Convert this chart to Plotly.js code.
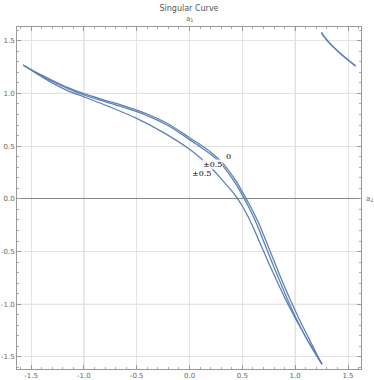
<!DOCTYPE html>
<html>
<head>
<meta charset="utf-8">
<script src="https://cdn.plot.ly/plotly-3.0.1.min.js"></script>
<style>html,body{margin:0;padding:0;background:#fff;}#chart{width:374px;height:380px;}</style>
</head>
<body>
<div id="chart"></div>
<script>
// Contour "0" (upper curve)
const c0X = [-1.575,-1.45,-1.3,-1.15,-1.0,-0.8,-0.6,-0.4,-0.2,0.0,0.1,0.2,0.3,0.4,0.45,0.5,0.55,0.6,0.65,0.7,0.75,0.8,0.85,0.9,0.95,1.0,1.05,1.1,1.15,1.2,1.254];
const c0Y = [1.27,1.2,1.125,1.055,0.997,0.935,0.875,0.805,0.71,0.58,0.515,0.443,0.355,0.228,0.153,0.066,-0.024,-0.117,-0.22,-0.34,-0.465,-0.59,-0.715,-0.835,-0.95,-1.06,-1.165,-1.265,-1.365,-1.465,-1.568];
// Contour "±0.5" (middle curve)
const c1X = [-1.575,-1.45,-1.3,-1.15,-1.0,-0.8,-0.6,-0.4,-0.2,0.0,0.1,0.2,0.3,0.4,0.45,0.5,0.55,0.6,0.65,0.7,0.75,0.8,0.85,0.9,0.95,1.0,1.05,1.1,1.15,1.2,1.254];
const c1Y = [1.27,1.195,1.115,1.045,0.985,0.922,0.86,0.79,0.693,0.562,0.495,0.422,0.332,0.2,0.123,0.035,-0.058,-0.158,-0.272,-0.4,-0.525,-0.65,-0.77,-0.89,-1.005,-1.115,-1.215,-1.31,-1.4,-1.485,-1.568];
// Contour "±0.5" (lower curve)
const c2X = [-1.575,-1.45,-1.3,-1.15,-1.0,-0.75,-0.5,-0.25,0.0,0.1,0.2,0.3,0.4,0.45,0.5,0.55,0.6,0.65,0.7,0.75,0.8,0.85,0.9,0.95,1.0,1.05,1.1,1.15,1.2,1.254];
const c2Y = [1.27,1.19,1.1,1.025,0.968,0.87,0.763,0.63,0.47,0.39,0.3,0.19,0.075,0.01,-0.07,-0.16,-0.265,-0.38,-0.495,-0.61,-0.72,-0.83,-0.935,-1.035,-1.13,-1.22,-1.31,-1.395,-1.48,-1.568];
// Wrapped piece, top right
const wX = [1.248,1.29,1.33,1.38,1.44,1.5,1.571];
const wY = [1.579,1.52,1.475,1.425,1.37,1.32,1.262];
const wY2 = [1.575,1.516,1.471,1.421,1.366,1.316,1.258];
// Contour labels
const labText = ["0","±0.5","±0.5"];
const labX = [0.37,0.215,0.115];
const labY = [0.40,0.33,0.245];
// Ticks
const tickVals = [-1.5,-1.0,-0.5,0.0,0.5,1.0,1.5];
const tickText = ["-1.5","-1.0","-0.5","0.0","0.5","1.0","1.5"];

const lineColor = '#5E81B5';
const mk = (x,y) => ({x:x, y:y, type:'scatter', mode:'lines', line:{color:lineColor, width:1.3, shape:'spline', smoothing:0.8}, hoverinfo:'skip', showlegend:false});
const data = [mk(c0X,c0Y), mk(c1X,c1Y), mk(c2X,c2Y), mk(wX,wY), mk(wX,wY2)];

const axisCommon = {
  tickvals: tickVals, ticktext: tickText,
  ticks:'inside', ticklen:4, tickcolor:'#999', tickwidth:1,
  minor:{dtick:0.1, tick0:0, ticks:'inside', ticklen:2, tickcolor:'#aaa', showgrid:false},
  showline:true, linecolor:'#999', linewidth:1, mirror:'allticks',
  showgrid:true, gridcolor:'#e3e3e3', gridwidth:1,
  tickfont:{family:'DejaVu Sans, sans-serif', size:7, color:'#666'},
  fixedrange:true
};

const gridShapes = [-1,1].map(v => ({type:'line', xref:'x', yref:'paper', x0:v, x1:v, y0:0, y1:1, line:{color:'#cfcfcf', width:1}, layer:'below'}))
 .concat([-1,1].map(v => ({type:'line', xref:'paper', yref:'y', x0:0, x1:1, y0:v, y1:v, line:{color:'#d6d6d6', width:1}, layer:'below'})));

const annotations = labText.map((t,i) => ({x:labX[i], y:labY[i], xref:'x', yref:'y', text:t, showarrow:false,
  font:{family:'DejaVu Serif, serif', size:8, color:'#000'}, bgcolor:'rgba(255,255,255,0.85)', borderpad:0}));
annotations.push({x:0.5, y:1, xref:'paper', yref:'paper', yanchor:'bottom', yshift:2, text:'a<sub>1</sub>', showarrow:false,
  font:{family:'DejaVu Sans, sans-serif', size:7, color:'#666'}});
annotations.push({x:1, y:0, xref:'paper', yref:'y', xanchor:'left', xshift:3, text:'a<sub>2</sub>', showarrow:false,
  font:{family:'DejaVu Sans, sans-serif', size:7, color:'#666'}});

const layout = {
  width:374, height:380,
  margin:{l:17, r:13, t:27, b:11, pad:0},
  paper_bgcolor:'#fff', plot_bgcolor:'#fff',
  title:{text:'Singular Curve', x:0.5, xref:'paper', y:0.985, yref:'container', yanchor:'top',
    font:{family:'DejaVu Sans, sans-serif', size:8, color:'#555'}},
  xaxis:Object.assign({}, axisCommon, {range:[-1.633,1.623], zeroline:false}),
  yaxis:Object.assign({}, axisCommon, {range:[-1.614,1.63], zeroline:true, zerolinecolor:'#888', zerolinewidth:1}),
  shapes:gridShapes,
  annotations:annotations,
  showlegend:false
};

Plotly.newPlot('chart', data, layout, {staticPlot:true, displayModeBar:false});
</script>
</body>
</html>
